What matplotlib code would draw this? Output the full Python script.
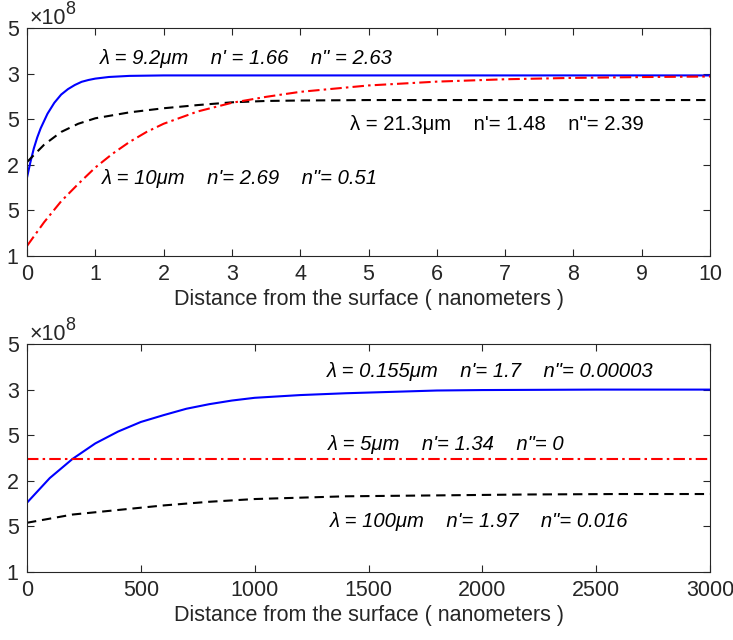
import numpy as np
import matplotlib.pyplot as plt
import matplotlib

font = {'size': 15.5, 'family': 'Liberation Sans'}
matplotlib.rc('font', **font)

# speeds in units of 1e8 m/s
# top panel, distance in nm
x_92 = [0, 0.05, 0.1, 0.15, 0.2, 0.3, 0.4, 0.5, 0.6, 0.7, 0.8, 0.9, 1.0, 1.2, 1.5, 2, 3, 10]
v_92 = [1.86, 2.03, 2.18, 2.30, 2.40, 2.56, 2.68, 2.77, 2.83, 2.875, 2.91, 2.93, 2.945, 2.963, 2.975, 2.98, 2.98, 2.98]

x_213 = [0, 0.25, 0.5, 0.75, 1, 1.5, 2, 2.5, 3, 3.5, 4, 5, 10]
v_213 = [2.03, 2.22, 2.36, 2.45, 2.51, 2.575, 2.62, 2.655, 2.685, 2.70, 2.705, 2.71, 2.71]

x_10 = [0, 0.25, 0.5, 0.75, 1.0, 1.25, 1.5, 1.75, 2.0, 2.5, 3.0, 3.5, 4, 5, 6, 7, 8, 9, 10]
v_10 = [1.11, 1.37, 1.60, 1.79, 1.97, 2.12, 2.25, 2.36, 2.45, 2.585, 2.68, 2.745, 2.80, 2.87, 2.912, 2.938, 2.953, 2.962, 2.968]

# bottom panel
x_0155 = [0, 100, 200, 300, 400, 500, 600, 700, 800, 900, 1000, 1200, 1400, 1600, 1800, 2000, 2500, 3000]
v_0155 = [1.76, 2.03, 2.24, 2.41, 2.54, 2.645, 2.72, 2.79, 2.84, 2.88, 2.91, 2.94, 2.96, 2.975, 2.99, 2.995, 3.0, 3.0]

x_5 = [0, 3000]
v_5 = [2.24, 2.24]

x_100 = [0, 200, 400, 600, 800, 1000, 1400, 1800, 2200, 2600, 3000]
v_100 = [1.54, 1.63, 1.68, 1.73, 1.77, 1.80, 1.83, 1.84, 1.85, 1.855, 1.855]

yticks = [1, 1.5, 2, 2.5, 3, 3.5]
ytick_labels = ['1', '5', '2', '5', '3', '5']

dash = (0, (4.5, 2.8))
dashdot = (0, (5.5, 2, 1.2, 2))
lw = 1.5
grey = '#262626'
note_size = 14.6


def style_axes(ax):
    ax.set_ylim(1, 3.5)
    ax.set_yticks(yticks)
    ax.set_yticklabels(ytick_labels)
    ax.tick_params(direction='in', top=True, right=True, length=5, pad=6,
                   colors=grey, labelcolor=grey)
    for s in ax.spines.values():
        s.set_color(grey)
        s.set_linewidth(0.8)
    ax.set_xlabel('Distance from the surface ( nanometers )', color=grey, labelpad=3)
    ax.text(0.003, 0.996, '×10', transform=ax.transAxes, color=grey, va='bottom', ha='left')
    ax.text(0.056, 1.045, '8', transform=ax.transAxes, color=grey, va='bottom', ha='left', fontsize=13)


fig = plt.figure(figsize=(7.33, 6.4), dpi=100)
ax1 = fig.add_axes([27/733, 1-256/640, 683/733, 228/640])
ax2 = fig.add_axes([27/733, 1-572/640, 683/733, 228/640])

ax1.plot(x_92, v_92, color='b', lw=lw)
ax1.plot(x_213, v_213, color='k', lw=lw, ls=dash)
ax1.plot(x_10, v_10, color='r', lw=lw, ls=dashdot)
ax1.set_xlim(0, 10)
ax1.set_xticks(range(0, 11))
style_axes(ax1)
ax1.text(1.07, 3.17, 'λ = 9.2μm    n\' = 1.66    n" = 2.63', style='italic', va='center', fontsize=note_size)
ax1.text(4.73, 2.44, 'λ = 21.3μm    n\'= 1.48    n"= 2.39', va='center', fontsize=note_size)
ax1.text(1.09, 1.85, 'λ = 10μm    n\'= 2.69    n"= 0.51', style='italic', va='center', fontsize=note_size)

ax2.plot(x_0155, v_0155, color='b', lw=lw)
ax2.plot(x_5, v_5, color='r', lw=lw, ls=dashdot)
ax2.plot(x_100, v_100, color='k', lw=lw, ls=dash)
ax2.set_xlim(0, 3000)
ax2.set_xticks(range(0, 3001, 500))
style_axes(ax2)
ax2.text(1316, 3.20, 'λ = 0.155μm    n\'= 1.7    n"= 0.00003', style='italic', va='center', fontsize=note_size)
ax2.text(1323, 2.40, 'λ = 5μm    n\'= 1.34    n"= 0', style='italic', va='center', fontsize=note_size)
ax2.text(1331, 1.555, 'λ = 100μm    n\'= 1.97    n"= 0.016', style='italic', va='center', fontsize=note_size)

plt.savefig('out.png', dpi=100)
